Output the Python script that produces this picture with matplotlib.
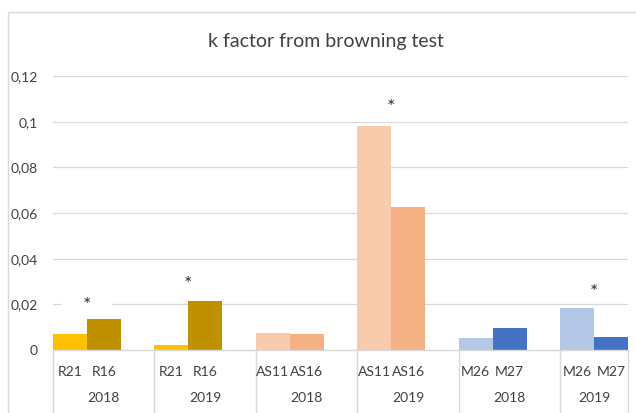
import matplotlib
matplotlib.use("Agg")
import matplotlib.pyplot as plt
from matplotlib.patches import Rectangle
import matplotlib.transforms as mtransforms

# ---- data ----
groups = ["R", "R", "AS", "AS", "M", "M"]
years = ["2018", "2019", "2018", "2019", "2018", "2019"]
cat_labels = [["R21", "R16"], ["R21", "R16"], ["AS11", "AS16"],
              ["AS11", "AS16"], ["M26", "M27"], ["M26", "M27"]]
values = [[0.0070, 0.0136], [0.0022, 0.0215], [0.0074, 0.0071],
          [0.0980, 0.0625], [0.0053, 0.0096], [0.0184, 0.0057]]
star_groups = [0, 1, 3, 5]
star_values = [0.0197, 0.0287, 0.1063, 0.0252]
colors = [["#FFC000", "#BF9000"], ["#FFC000", "#BF9000"], ["#F8CBAD", "#F4B183"],
          ["#F8CBAD", "#F4B183"], ["#B4C7E7", "#4472C4"], ["#B4C7E7", "#4472C4"]]
yticks = [0, 0.02, 0.04, 0.06, 0.08, 0.1, 0.12]
ytick_labels = ["0", "0,02", "0,04", "0,06", "0,08", "0,1", "0,12"]
title = "k factor from browning test"

plt.rcParams['font.family'] = ['Lato', 'DejaVu Sans']

W, H = 636, 413
fig = plt.figure(figsize=(W / 100, H / 100), dpi=100)
ax = fig.add_axes([53 / W, 1 - 350 / H, (628 - 53) / W, (350 - 76) / H])

# chart border
fig.patches.append(Rectangle((8 / W, -0.1), 1.2, 1 - 12 / H + 0.1, transform=fig.transFigure,
                             fill=False, edgecolor="#D9D9D9", linewidth=1.0))

n_groups = len(groups)
slot = 3  # two bars + one empty category per group
group_starts = [g * slot for g in range(n_groups)]
for g in range(n_groups):
    for j in range(2):
        x = group_starts[g] + j
        ax.bar(x, values[g][j], width=1.0, color=colors[g][j], align="center",
               zorder=3, linewidth=0)

ax.set_xlim(-0.5, (n_groups - 1) * slot + 1.5)
ax.set_ylim(0, 0.12)
ax.set_yticks(yticks)
ax.set_yticklabels(ytick_labels, fontsize=10, color="#404040")
ax.tick_params(axis="y", length=0, pad=11)
ax.set_xticks([])
ax.grid(axis="y", color="#D9D9D9", linewidth=0.9, zorder=0)
for s in ax.spines.values():
    s.set_visible(False)

trans = mtransforms.blended_transform_factory(ax.transData, ax.transAxes)
bottom = -(H - 350) / (350 - 76) - 0.02
ax.plot([-0.5, (n_groups - 1) * slot + 1.5], [0, 0], transform=trans, color="#D9D9D9",
        linewidth=1.0, clip_on=False, zorder=4)
for g in range(n_groups):
    xb = group_starts[g] - 0.5
    ax.plot([xb, xb], [0, bottom], transform=trans, color="#D9D9D9", linewidth=1.0,
            clip_on=False)
xe = group_starts[-1] + 1.5
ax.plot([xe, xe], [0, bottom], transform=trans, color="#D9D9D9", linewidth=1.0, clip_on=False)

y_cat = -(372 - 350) / (350 - 76)
y_year = -(398 - 350) / (350 - 76)
for g in range(n_groups):
    for j in range(2):
        ax.text(group_starts[g] + j, y_cat, cat_labels[g][j], transform=trans,
                ha="center", va="center", fontsize=10, color="#404040")
    last = g == n_groups - 1
    gc = group_starts[g] + (0.5 if last else 1.0)
    ax.text(gc, y_year, years[g], transform=trans, ha="center", va="center",
            fontsize=10, color="#404040")

for g, v in zip(star_groups, star_values):
    ax.text(group_starts[g] + 0.5, v, "    *    ", ha="center", va="center", fontsize=14,
            color="#303030", zorder=5,
            bbox=dict(boxstyle="square,pad=0.05", facecolor="white", edgecolor="none"))

fig.text(326 / W, 1 - 42 / H, title, ha="center", va="center", fontsize=14, color="#404040")

fig.savefig("out.png", dpi=100)
